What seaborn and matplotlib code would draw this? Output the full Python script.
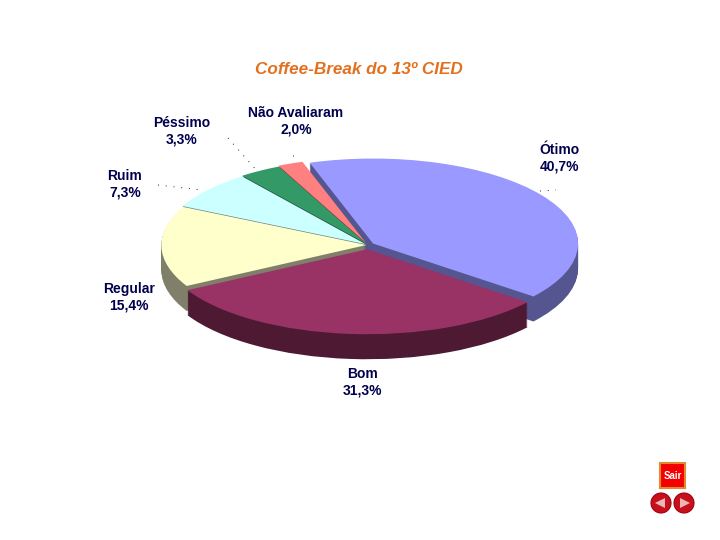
# Libraries
import matplotlib
matplotlib.use('Agg')
import matplotlib.pyplot as plt
import seaborn as sns
from matplotlib.patches import Circle, Polygon, Rectangle

# ======================
# 1. Data
# ======================
categories = ['Ótimo', 'Bom', 'Regular', 'Ruim', 'Péssimo', 'Não Avaliaram']
values = [40.7, 31.3, 15.4, 7.3, 3.3, 2.0]
top_colors = ['#9999ff', '#993366', '#ffffcc', '#ccffff', '#339966', '#ff8080']
side_colors = ['#55558f', '#4d1933', '#80806a', '#688080', '#1a4d33', '#804040']
explode = [0.03, 0.05, 0.008, 0.015, 0.02, 0.03]
wall_rank = [1, 6, 5, 4, 3, 2]   # back to front

title_text = 'Coffee-Break do 13º CIED'
label_pos = [(559, 158), (362, 382), (129, 297), (125, 184), (182, 131), (296, 121)]

# ======================
# 2. Setup
# ======================
sns.set_theme(style='white')
plt.rcParams['font.family'] = ['Liberation Sans', 'DejaVu Sans']

W, H = 720, 540
cx, cy = 368, 245
rx, ry = 205, 85
depth = 25

fig = plt.figure(figsize=(W / 100, H / 100), dpi=100, facecolor='white')
ax = fig.add_axes([0, 0, 1, 1])

# ======================
# 3. Pie, stacked copies give the 3D wall
# ======================
for d in range(depth, -1, -1):
    cols = top_colors if d == 0 else side_colors
    wedges, _ = ax.pie(values, colors=sns.color_palette(cols), startangle=108,
                       counterclock=False, explode=explode,
                       center=(0, -d / ry), radius=1,
                       wedgeprops={'linewidth': 0})
    for w, r in zip(wedges, wall_rank):
        # tops always stay above every wall
        w.set_zorder(10000 + r if d == 0 else r * 100 + (depth - d))

ax.set_aspect('auto')
ax.set_xlim(-cx / rx, (W - cx) / rx)
ax.set_ylim(-(H - cy) / ry, cy / ry)
ax.axis('off')

# ======================
# 4. Texts and buttons in pixel coordinates
# ======================
over = fig.add_axes([0, 0, 1, 1], facecolor='none')
over.set_xlim(0, W)
over.set_ylim(H, 0)
over.axis('off')

over.text(359, 69, title_text, color='#e3701e', fontsize=12.3, fontweight='bold',
          fontstyle='italic', ha='center', va='center')

for name, val, (x, y) in zip(categories, values, label_pos):
    txt = name + '\n' + f'{val:.1f}'.replace('.', ',') + '%'
    over.text(x, y, txt, color='#00004d', fontsize=10, fontweight='bold',
              ha='center', va='center', linespacing=1.2)

# leader lines
leaders = [((540, 191), (556, 190)), ((158, 185), (202, 190)),
           ((228, 138), (258, 172)), ((293, 155), (293, 157))]
for p0, p1 in leaders:
    over.plot([p0[0], p1[0]], [p0[1], p1[1]], color='#222222', lw=0.7,
              linestyle=(0, (1, 7)))

# Sair button
over.add_patch(Rectangle((660, 463), 25, 25, facecolor='#f50000',
                         edgecolor='#e08a30', lw=1.5))
over.text(672.5, 476, 'Sair', color='white', fontsize=7, fontweight='bold',
          ha='center', va='center')

# arrows
for xc, tri in [(661, [(655, 503), (665, 498), (665, 508)]),
                (684, [(690, 503), (680, 498), (680, 508)])]:
    over.add_patch(Circle((xc, 503), 10, facecolor='#c8101c', edgecolor='#a00010', lw=0.8))
    over.add_patch(Polygon(tri, closed=True, facecolor='#e8b8b8', edgecolor='none'))

fig.savefig('out.png', dpi=100, facecolor='white')
